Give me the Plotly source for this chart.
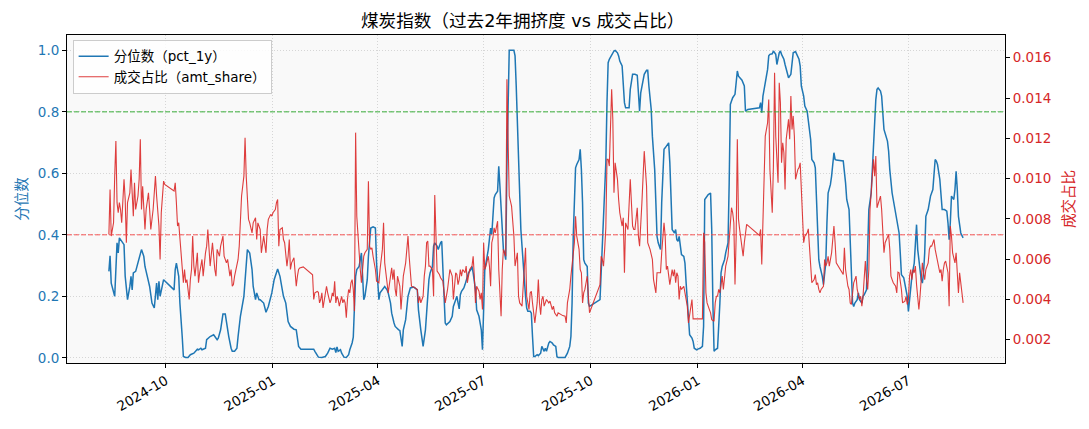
import plotly.graph_objects as go

TITLE = "煤炭指数（过去2年拥挤度 vs 成交占比）"
PCT_NAME = "分位数（pct_1y）"
AMT_NAME = "成交占比（amt_share）"
LEFT_LABEL = "分位数"
RIGHT_LABEL = "成交占比"

HIGH_LINE = 0.8   # green dashed, left axis
MID_LINE = 0.4    # red dashed, left axis

# pct_1y readings (date, value)
PCT_1Y = [
    ("2024-08-13", 0.281), ("2024-08-14", 0.332), ("2024-08-15", 0.243), ("2024-08-18", 0.200),
    ("2024-08-20", 0.374), ("2024-08-21", 0.341), ("2024-08-22", 0.390), ("2024-08-24", 0.379),
    ("2024-08-26", 0.368), ("2024-08-27", 0.265), ("2024-08-29", 0.189), ("2024-08-31", 0.232),
    ("2024-09-01", 0.265), ("2024-09-02", 0.221), ("2024-09-03", 0.276), ("2024-09-05", 0.281),
    ("2024-09-06", 0.297), ("2024-09-08", 0.330), ("2024-09-09", 0.341), ("2024-09-10", 0.352),
    ("2024-09-12", 0.330), ("2024-09-13", 0.297), ("2024-09-15", 0.265), ("2024-09-17", 0.232),
    ("2024-09-19", 0.178), ("2024-09-21", 0.162), ("2024-09-23", 0.243), ("2024-09-24", 0.189),
    ("2024-09-25", 0.249), ("2024-09-26", 0.200), ("2024-09-29", 0.254), ("2024-10-08", 0.221),
    ("2024-10-09", 0.287), ("2024-10-10", 0.308), ("2024-10-12", 0.265), ("2024-10-13", 0.178),
    ("2024-10-15", 0.069), ("2024-10-16", 0.004), ("2024-10-18", 0.001), ("2024-10-20", 0.001),
    ("2024-10-22", 0.010), ("2024-10-25", 0.015), ("2024-10-28", 0.028), ("2024-10-29", 0.026),
    ("2024-10-31", 0.031), ("2024-11-01", 0.026), ("2024-11-04", 0.031), ("2024-11-05", 0.059),
    ("2024-11-08", 0.069), ("2024-11-11", 0.075), ("2024-11-14", 0.059), ("2024-11-15", 0.064),
    ("2024-11-17", 0.091), ("2024-11-18", 0.118), ("2024-11-19", 0.142), ("2024-11-21", 0.142),
    ("2024-11-22", 0.113), ("2024-11-24", 0.069), ("2024-11-26", 0.031), ("2024-11-27", 0.021),
    ("2024-11-29", 0.021), ("2024-12-01", 0.031), ("2024-12-02", 0.069), ("2024-12-04", 0.135),
    ("2024-12-07", 0.200), ("2024-12-09", 0.287), ("2024-12-10", 0.352), ("2024-12-12", 0.341),
    ("2024-12-14", 0.287), ("2024-12-15", 0.232), ("2024-12-17", 0.189), ("2024-12-18", 0.211),
    ("2024-12-20", 0.189), ("2024-12-21", 0.189), ("2024-12-24", 0.178), ("2024-12-26", 0.148),
    ("2024-12-28", 0.167), ("2024-12-31", 0.211), ("2025-01-02", 0.254), ("2025-01-05", 0.289),
    ("2025-01-07", 0.265), ("2025-01-09", 0.221), ("2025-01-10", 0.200), ("2025-01-12", 0.178),
    ("2025-01-13", 0.135), ("2025-01-14", 0.118), ("2025-01-16", 0.102), ("2025-01-19", 0.093),
    ("2025-01-21", 0.091), ("2025-01-22", 0.059), ("2025-01-23", 0.037), ("2025-01-25", 0.028),
    ("2025-01-27", 0.028), ("2025-02-05", 0.028), ("2025-02-06", 0.021), ("2025-02-08", 0.010),
    ("2025-02-09", 0.002), ("2025-02-12", 0.001), ("2025-02-15", 0.004), ("2025-02-17", 0.015),
    ("2025-02-19", 0.031), ("2025-02-21", 0.028), ("2025-02-23", 0.031), ("2025-02-24", 0.017),
    ("2025-02-25", 0.035), ("2025-02-26", 0.021), ("2025-02-28", 0.026), ("2025-03-01", 0.015),
    ("2025-03-03", 0.002), ("2025-03-05", 0.001), ("2025-03-07", 0.010), ("2025-03-08", 0.026),
    ("2025-03-10", 0.048), ("2025-03-11", 0.067), ("2025-03-12", 0.178), ("2025-03-13", 0.265),
    ("2025-03-14", 0.287), ("2025-03-16", 0.297), ("2025-03-17", 0.319), ("2025-03-18", 0.341),
    ("2025-03-19", 0.265), ("2025-03-20", 0.189), ("2025-03-21", 0.200), ("2025-03-23", 0.254),
    ("2025-03-24", 0.330), ("2025-03-25", 0.384), ("2025-03-26", 0.422), ("2025-03-28", 0.426),
    ("2025-03-30", 0.422), ("2025-03-31", 0.308), ("2025-04-02", 0.189), ("2025-04-03", 0.211),
    ("2025-04-05", 0.221), ("2025-04-06", 0.227), ("2025-04-07", 0.232), ("2025-04-09", 0.221),
    ("2025-04-10", 0.211), ("2025-04-12", 0.178), ("2025-04-13", 0.145), ("2025-04-15", 0.113),
    ("2025-04-16", 0.102), ("2025-04-19", 0.091), ("2025-04-20", 0.089), ("2025-04-22", 0.037),
    ("2025-04-23", 0.091), ("2025-04-25", 0.124), ("2025-04-26", 0.156), ("2025-04-27", 0.200),
    ("2025-04-29", 0.227), ("2025-05-02", 0.230), ("2025-05-05", 0.221), ("2025-05-06", 0.156),
    ("2025-05-08", 0.091), ("2025-05-09", 0.059), ("2025-05-10", 0.037), ("2025-05-12", 0.091),
    ("2025-05-13", 0.156), ("2025-05-15", 0.254), ("2025-05-16", 0.276), ("2025-05-18", 0.297),
    ("2025-05-19", 0.363), ("2025-05-20", 0.374), ("2025-05-22", 0.363), ("2025-05-23", 0.352),
    ("2025-05-25", 0.374), ("2025-05-26", 0.379), ("2025-05-28", 0.200), ("2025-05-29", 0.113),
    ("2025-05-30", 0.107), ("2025-06-01", 0.113), ("2025-06-02", 0.118), ("2025-06-04", 0.135),
    ("2025-06-05", 0.167), ("2025-06-07", 0.189), ("2025-06-08", 0.200), ("2025-06-10", 0.159),
    ("2025-06-11", 0.205), ("2025-06-12", 0.216), ("2025-06-14", 0.227), ("2025-06-15", 0.238),
    ("2025-06-17", 0.265), ("2025-06-18", 0.276), ("2025-06-20", 0.287), ("2025-06-21", 0.297),
    ("2025-06-22", 0.276), ("2025-06-24", 0.221), ("2025-06-25", 0.156), ("2025-06-27", 0.135),
    ("2025-06-28", 0.113), ("2025-06-29", 0.091), ("2025-06-30", 0.026), ("2025-07-01", 0.178),
    ("2025-07-02", 0.287), ("2025-07-04", 0.330), ("2025-07-05", 0.352), ("2025-07-07", 0.422),
    ("2025-07-08", 0.401), ("2025-07-10", 0.520), ("2025-07-11", 0.531), ("2025-07-13", 0.542),
    ("2025-07-14", 0.623), ("2025-07-15", 0.558), ("2025-07-17", 0.439), ("2025-07-18", 0.352),
    ("2025-07-19", 0.341), ("2025-07-20", 0.319), ("2025-07-21", 0.623), ("2025-07-22", 0.884),
    ("2025-07-23", 1.000), ("2025-07-27", 1.000), ("2025-07-28", 0.982), ("2025-07-29", 0.884),
    ("2025-07-30", 0.775), ("2025-07-31", 0.612), ("2025-08-01", 0.504), ("2025-08-02", 0.417),
    ("2025-08-04", 0.308), ("2025-08-05", 0.232), ("2025-08-06", 0.200), ("2025-08-07", 0.162),
    ("2025-08-08", 0.151), ("2025-08-10", 0.151), ("2025-08-11", 0.145), ("2025-08-12", 0.069),
    ("2025-08-13", 0.004), ("2025-08-14", 0.004), ("2025-08-16", 0.010), ("2025-08-17", 0.007),
    ("2025-08-19", 0.015), ("2025-08-20", 0.037), ("2025-08-22", 0.021), ("2025-08-23", 0.031),
    ("2025-08-24", 0.021), ("2025-08-26", 0.048), ("2025-08-27", 0.053), ("2025-08-29", 0.048),
    ("2025-08-30", 0.042), ("2025-09-01", 0.037), ("2025-09-02", 0.004), ("2025-09-03", 0.001),
    ("2025-09-06", 0.001), ("2025-09-09", 0.001), ("2025-09-11", 0.015), ("2025-09-13", 0.037),
    ("2025-09-14", 0.069), ("2025-09-15", 0.178), ("2025-09-16", 0.395), ("2025-09-17", 0.526),
    ("2025-09-18", 0.618), ("2025-09-19", 0.629), ("2025-09-21", 0.645), ("2025-09-22", 0.678),
    ("2025-09-23", 0.612), ("2025-09-24", 0.504), ("2025-09-25", 0.319), ("2025-09-26", 0.308),
    ("2025-09-28", 0.297), ("2025-09-29", 0.178), ("2025-09-30", 0.167), ("2025-10-09", 0.189),
    ("2025-10-10", 0.287), ("2025-10-11", 0.374), ("2025-10-12", 0.460), ("2025-10-14", 0.634),
    ("2025-10-15", 0.830), ("2025-10-16", 0.960), ("2025-10-17", 0.971), ("2025-10-19", 0.987),
    ("2025-10-21", 0.998), ("2025-10-22", 1.000), ("2025-10-24", 0.992), ("2025-10-25", 0.982),
    ("2025-10-26", 0.965), ("2025-10-28", 0.949), ("2025-10-29", 0.884), ("2025-10-30", 0.830),
    ("2025-10-31", 0.813), ("2025-11-03", 0.813), ("2025-11-04", 0.873), ("2025-11-06", 0.922),
    ("2025-11-08", 0.922), ("2025-11-10", 0.919), ("2025-11-11", 0.862), ("2025-11-12", 0.802),
    ("2025-11-13", 0.862), ("2025-11-15", 0.895), ("2025-11-16", 0.922), ("2025-11-18", 0.935),
    ("2025-11-19", 0.935), ("2025-11-20", 0.884), ("2025-11-22", 0.808), ("2025-11-23", 0.721),
    ("2025-11-25", 0.612), ("2025-11-26", 0.504), ("2025-11-27", 0.395), ("2025-11-28", 0.374),
    ("2025-11-30", 0.352), ("2025-12-01", 0.504), ("2025-12-03", 0.678), ("2025-12-04", 0.683),
    ("2025-12-06", 0.694), ("2025-12-07", 0.699), ("2025-12-08", 0.634), ("2025-12-09", 0.504),
    ("2025-12-10", 0.417), ("2025-12-12", 0.406), ("2025-12-13", 0.417), ("2025-12-14", 0.384),
    ("2025-12-15", 0.379), ("2025-12-16", 0.395), ("2025-12-17", 0.352), ("2025-12-18", 0.336),
    ("2025-12-20", 0.330), ("2025-12-21", 0.308), ("2025-12-22", 0.243), ("2025-12-23", 0.178),
    ("2025-12-24", 0.118), ("2025-12-25", 0.075), ("2025-12-27", 0.064), ("2025-12-28", 0.053),
    ("2025-12-29", 0.031), ("2025-12-31", 0.026), ("2026-01-01", 0.028), ("2026-01-03", 0.031),
    ("2026-01-05", 0.037), ("2026-01-06", 0.102), ("2026-01-07", 0.515), ("2026-01-09", 0.526),
    ("2026-01-10", 0.531), ("2026-01-12", 0.536), ("2026-01-13", 0.417), ("2026-01-14", 0.178),
    ("2026-01-15", 0.021), ("2026-01-16", 0.026), ("2026-01-18", 0.031), ("2026-01-20", 0.178),
    ("2026-01-21", 0.276), ("2026-01-22", 0.297), ("2026-01-24", 0.319), ("2026-01-25", 0.341),
    ("2026-01-27", 0.374), ("2026-01-28", 0.569), ("2026-01-29", 0.824), ("2026-01-30", 0.835),
    ("2026-01-31", 0.846), ("2026-02-02", 0.857), ("2026-02-04", 0.933), ("2026-02-05", 0.916),
    ("2026-02-07", 0.906), ("2026-02-08", 0.903), ("2026-02-10", 0.884), ("2026-02-11", 0.802),
    ("2026-02-13", 0.808), ("2026-02-23", 0.813), ("2026-02-24", 0.830), ("2026-02-25", 0.797),
    ("2026-02-26", 0.851), ("2026-02-28", 0.895), ("2026-03-02", 0.938), ("2026-03-03", 0.982),
    ("2026-03-04", 0.987), ("2026-03-06", 0.989), ("2026-03-07", 0.998), ("2026-03-09", 0.987),
    ("2026-03-10", 0.954), ("2026-03-12", 0.992), ("2026-03-13", 0.998), ("2026-03-14", 0.987),
    ("2026-03-16", 0.971), ("2026-03-17", 0.954), ("2026-03-19", 0.922), ("2026-03-20", 0.911),
    ("2026-03-22", 0.922), ("2026-03-23", 0.949), ("2026-03-24", 0.992), ("2026-03-26", 0.996),
    ("2026-03-27", 0.987), ("2026-03-29", 0.971), ("2026-03-30", 0.949), ("2026-03-31", 0.884),
    ("2026-04-02", 0.851), ("2026-04-03", 0.819), ("2026-04-05", 0.802), ("2026-04-06", 0.775),
    ("2026-04-08", 0.710), ("2026-04-09", 0.645), ("2026-04-11", 0.634), ("2026-04-12", 0.618),
    ("2026-04-13", 0.504), ("2026-04-15", 0.319), ("2026-04-16", 0.297), ("2026-04-18", 0.265),
    ("2026-04-19", 0.238), ("2026-04-21", 0.308), ("2026-04-22", 0.439), ("2026-04-23", 0.536),
    ("2026-04-25", 0.564), ("2026-04-26", 0.591), ("2026-04-28", 0.667), ("2026-04-29", 0.645),
    ("2026-04-30", 0.643), ("2026-05-06", 0.640), ("2026-05-08", 0.569), ("2026-05-09", 0.515),
    ("2026-05-11", 0.482), ("2026-05-12", 0.395), ("2026-05-13", 0.265), ("2026-05-14", 0.178),
    ("2026-05-15", 0.167), ("2026-05-16", 0.178), ("2026-05-18", 0.189), ("2026-05-19", 0.211),
    ("2026-05-20", 0.189), ("2026-05-22", 0.178), ("2026-05-23", 0.200), ("2026-05-24", 0.205),
    ("2026-05-26", 0.221), ("2026-05-27", 0.363), ("2026-05-28", 0.482), ("2026-05-30", 0.536),
    ("2026-05-31", 0.612), ("2026-06-01", 0.732), ("2026-06-03", 0.840), ("2026-06-04", 0.873),
    ("2026-06-05", 0.878), ("2026-06-07", 0.868), ("2026-06-08", 0.851), ("2026-06-10", 0.743),
    ("2026-06-11", 0.732), ("2026-06-13", 0.705), ("2026-06-14", 0.672), ("2026-06-15", 0.612),
    ("2026-06-17", 0.536), ("2026-06-18", 0.515), ("2026-06-20", 0.482), ("2026-06-21", 0.460),
    ("2026-06-23", 0.406), ("2026-06-24", 0.341), ("2026-06-25", 0.270), ("2026-06-27", 0.260),
    ("2026-06-28", 0.243), ("2026-06-30", 0.200), ("2026-07-01", 0.151), ("2026-07-02", 0.189),
    ("2026-07-03", 0.221), ("2026-07-04", 0.265), ("2026-07-06", 0.308), ("2026-07-07", 0.374),
    ("2026-07-08", 0.433), ("2026-07-09", 0.352), ("2026-07-10", 0.308), ("2026-07-11", 0.287),
    ("2026-07-12", 0.254), ("2026-07-13", 0.243), ("2026-07-14", 0.276), ("2026-07-15", 0.341),
    ("2026-07-16", 0.460), ("2026-07-18", 0.482), ("2026-07-19", 0.504), ("2026-07-20", 0.526),
    ("2026-07-22", 0.547), ("2026-07-23", 0.612), ("2026-07-24", 0.645), ("2026-07-25", 0.640),
    ("2026-07-26", 0.629), ("2026-07-28", 0.580), ("2026-07-29", 0.531), ("2026-07-30", 0.482),
    ("2026-08-01", 0.482), ("2026-08-03", 0.477), ("2026-08-04", 0.439), ("2026-08-05", 0.384),
    ("2026-08-06", 0.439), ("2026-08-07", 0.526), ("2026-08-08", 0.520), ("2026-08-09", 0.515),
    ("2026-08-10", 0.547), ("2026-08-11", 0.607), ("2026-08-12", 0.547), ("2026-08-13", 0.460),
    ("2026-08-14", 0.433), ("2026-08-15", 0.406), ("2026-08-17", 0.390),
]

# amt_share readings (date, value)
AMT_SHARE = [
    ("2024-08-13", 0.00722), ("2024-08-14", 0.00946), ("2024-08-15", 0.00714), ("2024-08-17", 0.00780),
    ("2024-08-18", 0.01012), ("2024-08-19", 0.01186), ("2024-08-20", 0.00880), ("2024-08-21", 0.00830),
    ("2024-08-22", 0.00880), ("2024-08-23", 0.00846), ("2024-08-24", 0.00780), ("2024-08-26", 0.00996),
    ("2024-08-27", 0.00896), ("2024-08-28", 0.00681), ("2024-08-29", 0.00880), ("2024-08-31", 0.00929),
    ("2024-09-01", 0.01045), ("2024-09-02", 0.00946), ("2024-09-03", 0.00813), ("2024-09-04", 0.00979),
    ("2024-09-05", 0.00846), ("2024-09-07", 0.00913), ("2024-09-08", 0.00996), ("2024-09-09", 0.01195),
    ("2024-09-10", 0.00846), ("2024-09-11", 0.00962), ("2024-09-12", 0.00846), ("2024-09-13", 0.00747),
    ("2024-09-14", 0.00846), ("2024-09-15", 0.00896), ("2024-09-16", 0.00929), ("2024-09-17", 0.00846),
    ("2024-09-18", 0.00747), ("2024-09-20", 0.00846), ("2024-09-21", 0.00929), ("2024-09-22", 0.01012),
    ("2024-09-23", 0.00913), ("2024-09-25", 0.00764), ("2024-09-26", 0.00598), ("2024-09-27", 0.00830),
    ("2024-09-29", 0.00987), ("2024-09-30", 0.00971), ("2024-10-08", 0.00938), ("2024-10-09", 0.00979),
    ("2024-10-10", 0.00880), ("2024-10-11", 0.00764), ("2024-10-12", 0.00780), ("2024-10-13", 0.00697),
    ("2024-10-14", 0.00648), ("2024-10-15", 0.00515), ("2024-10-16", 0.00482), ("2024-10-17", 0.00548),
    ("2024-10-18", 0.00482), ("2024-10-19", 0.00498), ("2024-10-20", 0.00449), ("2024-10-21", 0.00399),
    ("2024-10-22", 0.00498), ("2024-10-23", 0.00548), ("2024-10-24", 0.00714), ("2024-10-25", 0.00565),
    ("2024-10-26", 0.00515), ("2024-10-28", 0.00631), ("2024-10-29", 0.00482), ("2024-10-30", 0.00532),
    ("2024-11-01", 0.00598), ("2024-11-02", 0.00515), ("2024-11-04", 0.00631), ("2024-11-05", 0.00664),
    ("2024-11-06", 0.00747), ("2024-11-07", 0.00631), ("2024-11-08", 0.00565), ("2024-11-10", 0.00681),
    ("2024-11-11", 0.00598), ("2024-11-12", 0.00548), ("2024-11-13", 0.00515), ("2024-11-14", 0.00648),
    ("2024-11-16", 0.00614), ("2024-11-17", 0.00664), ("2024-11-19", 0.00714), ("2024-11-20", 0.00614),
    ("2024-11-22", 0.00581), ("2024-11-23", 0.00598), ("2024-11-25", 0.00515), ("2024-11-26", 0.00548),
    ("2024-11-27", 0.00465), ("2024-11-28", 0.00473), ("2024-11-29", 0.00515), ("2024-12-01", 0.00565),
    ("2024-12-02", 0.00598), ("2024-12-03", 0.00664), ("2024-12-04", 0.00780), ("2024-12-05", 0.00913),
    ("2024-12-07", 0.01012), ("2024-12-08", 0.01203), ("2024-12-09", 0.01012), ("2024-12-10", 0.00880),
    ("2024-12-11", 0.00797), ("2024-12-12", 0.00780), ("2024-12-14", 0.00730), ("2024-12-15", 0.00780),
    ("2024-12-17", 0.00805), ("2024-12-18", 0.00697), ("2024-12-19", 0.00780), ("2024-12-21", 0.00747),
    ("2024-12-22", 0.00631), ("2024-12-24", 0.00714), ("2024-12-25", 0.00664), ("2024-12-26", 0.00631),
    ("2024-12-27", 0.00747), ("2024-12-28", 0.00797), ("2024-12-30", 0.00822), ("2024-12-31", 0.00813),
    ("2025-01-01", 0.00830), ("2025-01-03", 0.00846), ("2025-01-04", 0.00880), ("2025-01-05", 0.00896),
    ("2025-01-06", 0.00664), ("2025-01-07", 0.00747), ("2025-01-09", 0.00755), ("2025-01-10", 0.00697),
    ("2025-01-11", 0.00681), ("2025-01-13", 0.00565), ("2025-01-14", 0.00614), ("2025-01-15", 0.00697),
    ("2025-01-16", 0.00548), ("2025-01-17", 0.00581), ("2025-01-19", 0.00606), ("2025-01-20", 0.00548),
    ("2025-01-21", 0.00465), ("2025-01-22", 0.00515), ("2025-01-23", 0.00548), ("2025-01-24", 0.00556),
    ("2025-01-27", 0.00561), ("2025-02-04", 0.00522), ("2025-02-05", 0.00399), ("2025-02-06", 0.00432),
    ("2025-02-08", 0.00439), ("2025-02-09", 0.00435), ("2025-02-10", 0.00382), ("2025-02-11", 0.00399),
    ("2025-02-12", 0.00432), ("2025-02-13", 0.00357), ("2025-02-14", 0.00399), ("2025-02-15", 0.00449),
    ("2025-02-16", 0.00465), ("2025-02-17", 0.00432), ("2025-02-19", 0.00382), ("2025-02-20", 0.00399),
    ("2025-02-21", 0.00432), ("2025-02-22", 0.00415), ("2025-02-23", 0.00490), ("2025-02-24", 0.00382),
    ("2025-02-25", 0.00415), ("2025-02-26", 0.00399), ("2025-02-27", 0.00366), ("2025-02-28", 0.00391),
    ("2025-03-01", 0.00415), ("2025-03-02", 0.00382), ("2025-03-03", 0.00399), ("2025-03-04", 0.00382),
    ("2025-03-05", 0.00308), ("2025-03-06", 0.00399), ("2025-03-07", 0.00449), ("2025-03-08", 0.00432),
    ("2025-03-09", 0.00482), ("2025-03-10", 0.00498), ("2025-03-11", 0.00449), ("2025-03-12", 0.00341),
    ("2025-03-13", 0.01228), ("2025-03-14", 0.00813), ("2025-03-15", 0.00714), ("2025-03-16", 0.00648),
    ("2025-03-17", 0.00548), ("2025-03-18", 0.00482), ("2025-03-19", 0.00565), ("2025-03-20", 0.00614),
    ("2025-03-21", 0.00631), ("2025-03-23", 0.00648), ("2025-03-24", 0.00987), ("2025-03-25", 0.00664),
    ("2025-03-26", 0.00648), ("2025-03-27", 0.00656), ("2025-03-28", 0.00614), ("2025-03-30", 0.00548),
    ("2025-03-31", 0.00490), ("2025-04-02", 0.00482), ("2025-04-03", 0.00548), ("2025-04-05", 0.00648),
    ("2025-04-06", 0.00780), ("2025-04-07", 0.00581), ("2025-04-09", 0.00482), ("2025-04-10", 0.00432),
    ("2025-04-12", 0.00515), ("2025-04-13", 0.00556), ("2025-04-14", 0.00498), ("2025-04-15", 0.00548),
    ("2025-04-16", 0.00449), ("2025-04-17", 0.00415), ("2025-04-18", 0.00515), ("2025-04-20", 0.00465),
    ("2025-04-21", 0.00349), ("2025-04-22", 0.00449), ("2025-04-23", 0.00515), ("2025-04-25", 0.00581),
    ("2025-04-26", 0.00664), ("2025-04-27", 0.00714), ("2025-04-28", 0.00614), ("2025-04-29", 0.00548),
    ("2025-04-30", 0.00465), ("2025-05-03", 0.00457), ("2025-05-05", 0.00449), ("2025-05-06", 0.00382),
    ("2025-05-07", 0.00415), ("2025-05-08", 0.00382), ("2025-05-10", 0.00415), ("2025-05-11", 0.00515),
    ("2025-05-12", 0.00565), ("2025-05-13", 0.00681), ("2025-05-14", 0.00689), ("2025-05-15", 0.00565),
    ("2025-05-16", 0.00565), ("2025-05-18", 0.00548), ("2025-05-19", 0.00415), ("2025-05-20", 0.00918),
    ("2025-05-21", 0.00681), ("2025-05-22", 0.00540), ("2025-05-24", 0.00523), ("2025-05-25", 0.00507),
    ("2025-05-27", 0.00490), ("2025-05-28", 0.00432), ("2025-05-29", 0.00382), ("2025-05-31", 0.00449),
    ("2025-06-01", 0.00498), ("2025-06-02", 0.00548), ("2025-06-04", 0.00515), ("2025-06-05", 0.00399),
    ("2025-06-07", 0.00532), ("2025-06-08", 0.00523), ("2025-06-09", 0.00473), ("2025-06-10", 0.00498),
    ("2025-06-11", 0.00548), ("2025-06-12", 0.00515), ("2025-06-13", 0.00548), ("2025-06-15", 0.00532),
    ("2025-06-16", 0.00565), ("2025-06-17", 0.00482), ("2025-06-18", 0.00515), ("2025-06-19", 0.00548),
    ("2025-06-21", 0.00565), ("2025-06-22", 0.00614), ("2025-06-23", 0.00515), ("2025-06-24", 0.00382),
    ("2025-06-25", 0.00465), ("2025-06-27", 0.00440), ("2025-06-28", 0.00399), ("2025-06-29", 0.00432),
    ("2025-06-30", 0.00349), ("2025-07-01", 0.00681), ("2025-07-02", 0.00548), ("2025-07-03", 0.00565),
    ("2025-07-05", 0.00614), ("2025-07-06", 0.00565), ("2025-07-07", 0.00465), ("2025-07-08", 0.00681),
    ("2025-07-09", 0.00706), ("2025-07-10", 0.00755), ("2025-07-11", 0.00730), ("2025-07-12", 0.00764),
    ("2025-07-13", 0.00788), ("2025-07-14", 0.00548), ("2025-07-15", 0.00382), ("2025-07-16", 0.00316),
    ("2025-07-17", 0.00548), ("2025-07-18", 0.00648), ("2025-07-19", 0.00631), ("2025-07-20", 0.00614),
    ("2025-07-21", 0.01493), ("2025-07-22", 0.01178), ("2025-07-23", 0.00913), ("2025-07-25", 0.00863),
    ("2025-07-26", 0.00805), ("2025-07-27", 0.00714), ("2025-07-28", 0.00565), ("2025-07-29", 0.00614),
    ("2025-07-30", 0.00631), ("2025-07-31", 0.00415), ("2025-08-01", 0.00382), ("2025-08-03", 0.00366),
    ("2025-08-04", 0.00482), ("2025-08-06", 0.00656), ("2025-08-07", 0.00415), ("2025-08-09", 0.00349),
    ("2025-08-10", 0.00432), ("2025-08-11", 0.00440), ("2025-08-12", 0.00382), ("2025-08-13", 0.00333),
    ("2025-08-14", 0.00283), ("2025-08-16", 0.00382), ("2025-08-17", 0.00498), ("2025-08-18", 0.00382),
    ("2025-08-19", 0.00324), ("2025-08-20", 0.00399), ("2025-08-21", 0.00415), ("2025-08-22", 0.00366),
    ("2025-08-23", 0.00382), ("2025-08-24", 0.00399), ("2025-08-26", 0.00382), ("2025-08-27", 0.00391),
    ("2025-08-29", 0.00349), ("2025-08-30", 0.00366), ("2025-08-31", 0.00333), ("2025-09-02", 0.00316),
    ("2025-09-03", 0.00333), ("2025-09-05", 0.00324), ("2025-09-07", 0.00319), ("2025-09-09", 0.00316),
    ("2025-09-10", 0.00283), ("2025-09-11", 0.00382), ("2025-09-13", 0.00449), ("2025-09-14", 0.00515),
    ("2025-09-15", 0.00581), ("2025-09-16", 0.00614), ("2025-09-17", 0.00681), ("2025-09-18", 0.00813),
    ("2025-09-19", 0.00714), ("2025-09-21", 0.00648), ("2025-09-22", 0.00548), ("2025-09-23", 0.00532),
    ("2025-09-24", 0.00382), ("2025-09-25", 0.00432), ("2025-09-26", 0.00449), ("2025-09-27", 0.00482),
    ("2025-09-28", 0.00515), ("2025-09-29", 0.00415), ("2025-09-30", 0.00333), ("2025-10-09", 0.00473),
    ("2025-10-10", 0.00614), ("2025-10-11", 0.00598), ("2025-10-12", 0.00565), ("2025-10-13", 0.00648),
    ("2025-10-14", 0.00755), ("2025-10-15", 0.01095), ("2025-10-16", 0.01095), ("2025-10-17", 0.01062),
    ("2025-10-18", 0.01294), ("2025-10-19", 0.01443), ("2025-10-20", 0.01294), ("2025-10-21", 0.00929),
    ("2025-10-22", 0.01078), ("2025-10-24", 0.00996), ("2025-10-25", 0.00896), ("2025-10-26", 0.00830),
    ("2025-10-28", 0.00764), ("2025-10-29", 0.00805), ("2025-10-30", 0.00532), ("2025-10-31", 0.00780),
    ("2025-11-02", 0.00747), ("2025-11-03", 0.00880), ("2025-11-04", 0.00996), ("2025-11-06", 0.00764),
    ("2025-11-07", 0.00747), ("2025-11-08", 0.00747), ("2025-11-10", 0.00855), ("2025-11-11", 0.00714),
    ("2025-11-12", 0.00664), ("2025-11-14", 0.00880), ("2025-11-15", 0.01012), ("2025-11-16", 0.01136),
    ("2025-11-18", 0.00962), ("2025-11-19", 0.00681), ("2025-11-20", 0.00664), ("2025-11-21", 0.00648),
    ("2025-11-23", 0.00598), ("2025-11-24", 0.00498), ("2025-11-26", 0.00432), ("2025-11-27", 0.00532),
    ("2025-11-28", 0.00532), ("2025-11-30", 0.00532), ("2025-12-01", 0.00631), ("2025-12-03", 0.00780),
    ("2025-12-04", 0.00714), ("2025-12-05", 0.00548), ("2025-12-06", 0.00565), ("2025-12-07", 0.00498),
    ("2025-12-08", 0.00473), ("2025-12-10", 0.00548), ("2025-12-11", 0.00515), ("2025-12-12", 0.00548),
    ("2025-12-13", 0.00482), ("2025-12-14", 0.00532), ("2025-12-15", 0.00515), ("2025-12-16", 0.00399),
    ("2025-12-17", 0.00465), ("2025-12-18", 0.00449), ("2025-12-20", 0.00465), ("2025-12-21", 0.00432),
    ("2025-12-23", 0.00366), ("2025-12-24", 0.00283), ("2025-12-26", 0.00349), ("2025-12-27", 0.00399),
    ("2025-12-28", 0.00303), ("2025-12-31", 0.00303), ("2026-01-05", 0.00303), ("2026-01-06", 0.00730),
    ("2026-01-07", 0.00681), ("2026-01-08", 0.00432), ("2026-01-09", 0.00382), ("2026-01-11", 0.00349),
    ("2026-01-12", 0.00333), ("2026-01-13", 0.00299), ("2026-01-15", 0.00291), ("2026-01-16", 0.00382),
    ("2026-01-17", 0.00415), ("2026-01-18", 0.00415), ("2026-01-19", 0.00449), ("2026-01-20", 0.00432),
    ("2026-01-21", 0.00482), ("2026-01-22", 0.00515), ("2026-01-23", 0.00449), ("2026-01-24", 0.00498),
    ("2026-01-25", 0.00565), ("2026-01-27", 0.00614), ("2026-01-28", 0.00681), ("2026-01-29", 0.00780),
    ("2026-01-30", 0.00855), ("2026-01-31", 0.00830), ("2026-02-01", 0.00780), ("2026-02-02", 0.00473),
    ("2026-02-03", 0.00714), ("2026-02-04", 0.01195), ("2026-02-05", 0.00797), ("2026-02-06", 0.00747),
    ("2026-02-08", 0.00664), ("2026-02-09", 0.00614), ("2026-02-10", 0.00681), ("2026-02-11", 0.00730),
    ("2026-02-12", 0.00772), ("2026-02-23", 0.00717), ("2026-02-24", 0.00747), ("2026-02-25", 0.00573),
    ("2026-02-26", 0.00780), ("2026-02-27", 0.01078), ("2026-02-28", 0.01211), ("2026-03-02", 0.01277),
    ("2026-03-03", 0.01393), ("2026-03-04", 0.01045), ("2026-03-05", 0.00962), ("2026-03-06", 0.00830),
    ("2026-03-07", 0.01062), ("2026-03-08", 0.01526), ("2026-03-09", 0.01211), ("2026-03-10", 0.01078),
    ("2026-03-11", 0.00979), ("2026-03-12", 0.01476), ("2026-03-13", 0.01377), ("2026-03-14", 0.01078),
    ("2026-03-15", 0.01178), ("2026-03-16", 0.01128), ("2026-03-17", 0.00946), ("2026-03-18", 0.01195),
    ("2026-03-20", 0.01294), ("2026-03-21", 0.01195), ("2026-03-22", 0.01410), ("2026-03-23", 0.01244),
    ("2026-03-24", 0.01311), ("2026-03-25", 0.01211), ("2026-03-26", 0.00996), ("2026-03-28", 0.01045),
    ("2026-03-29", 0.01054), ("2026-03-30", 0.01078), ("2026-03-31", 0.00913), ("2026-04-01", 0.00747),
    ("2026-04-02", 0.00681), ("2026-04-03", 0.00714), ("2026-04-05", 0.00730), ("2026-04-06", 0.00750),
    ("2026-04-08", 0.00598), ("2026-04-09", 0.00482), ("2026-04-11", 0.00498), ("2026-04-12", 0.00523),
    ("2026-04-13", 0.00473), ("2026-04-14", 0.00482), ("2026-04-15", 0.00449), ("2026-04-16", 0.00432),
    ("2026-04-17", 0.00449), ("2026-04-19", 0.00465), ("2026-04-20", 0.00598), ("2026-04-21", 0.00565),
    ("2026-04-22", 0.00581), ("2026-04-23", 0.00614), ("2026-04-24", 0.00565), ("2026-04-25", 0.00598),
    ("2026-04-26", 0.00631), ("2026-04-27", 0.00697), ("2026-04-28", 0.00764), ("2026-04-29", 0.00681),
    ("2026-04-30", 0.00581), ("2026-05-06", 0.00523), ("2026-05-07", 0.00656), ("2026-05-08", 0.00548),
    ("2026-05-09", 0.00498), ("2026-05-10", 0.00465), ("2026-05-11", 0.00449), ("2026-05-12", 0.00382),
    ("2026-05-13", 0.00374), ("2026-05-14", 0.00449), ("2026-05-15", 0.00482), ("2026-05-16", 0.00498),
    ("2026-05-17", 0.00515), ("2026-05-18", 0.00449), ("2026-05-20", 0.00399), ("2026-05-21", 0.00415),
    ("2026-05-22", 0.00366), ("2026-05-23", 0.00415), ("2026-05-24", 0.00482), ("2026-05-25", 0.00590),
    ("2026-05-26", 0.00498), ("2026-05-27", 0.00449), ("2026-05-28", 0.00548), ("2026-05-29", 0.00846),
    ("2026-05-30", 0.00929), ("2026-05-31", 0.01045), ("2026-06-01", 0.01095), ("2026-06-02", 0.01012),
    ("2026-06-03", 0.01112), ("2026-06-04", 0.00855), ("2026-06-06", 0.00896), ("2026-06-07", 0.00913),
    ("2026-06-08", 0.00846), ("2026-06-09", 0.00714), ("2026-06-10", 0.00631), ("2026-06-11", 0.00681),
    ("2026-06-13", 0.00714), ("2026-06-14", 0.00722), ("2026-06-15", 0.00648), ("2026-06-16", 0.00515),
    ("2026-06-17", 0.00498), ("2026-06-18", 0.00482), ("2026-06-20", 0.00465), ("2026-06-21", 0.00432),
    ("2026-06-22", 0.00535), ("2026-06-23", 0.00532), ("2026-06-25", 0.00449), ("2026-06-26", 0.00382),
    ("2026-06-28", 0.00391), ("2026-06-29", 0.00415), ("2026-06-30", 0.00374), ("2026-07-01", 0.00399),
    ("2026-07-02", 0.00515), ("2026-07-03", 0.00548), ("2026-07-04", 0.00498), ("2026-07-05", 0.00548),
    ("2026-07-06", 0.00532), ("2026-07-07", 0.00565), ("2026-07-08", 0.00473), ("2026-07-09", 0.00399),
    ("2026-07-10", 0.00349), ("2026-07-11", 0.00415), ("2026-07-12", 0.00482), ("2026-07-13", 0.00581),
    ("2026-07-14", 0.00532), ("2026-07-15", 0.00498), ("2026-07-16", 0.00548), ("2026-07-18", 0.00581),
    ("2026-07-19", 0.00648), ("2026-07-20", 0.00664), ("2026-07-21", 0.00664), ("2026-07-22", 0.00681),
    ("2026-07-23", 0.00697), ("2026-07-24", 0.00648), ("2026-07-25", 0.00614), ("2026-07-26", 0.00581),
    ("2026-07-28", 0.00532), ("2026-07-29", 0.00548), ("2026-07-30", 0.00490), ("2026-07-31", 0.00548),
    ("2026-08-01", 0.00581), ("2026-08-02", 0.00590), ("2026-08-04", 0.00532), ("2026-08-05", 0.00366),
    ("2026-08-06", 0.00764), ("2026-08-07", 0.00714), ("2026-08-08", 0.00631), ("2026-08-09", 0.00606),
    ("2026-08-10", 0.00581), ("2026-08-11", 0.00631), ("2026-08-12", 0.00548), ("2026-08-13", 0.00432),
    ("2026-08-14", 0.00532), ("2026-08-15", 0.00482), ("2026-08-16", 0.00432), ("2026-08-17", 0.00382),
]

pct_dates = [d for d, _ in PCT_1Y]
pct_vals = [v for _, v in PCT_1Y]
amt_dates = [d for d, _ in AMT_SHARE]
amt_vals = [v for _, v in AMT_SHARE]

BLUE = "#1f77b4"
RED = "#d62728"
FONT = "DejaVu Sans, Noto Sans CJK SC, sans-serif"
GRID = "rgba(190,190,190,0.6)"

fig = go.Figure()
fig.add_trace(go.Scatter(
    x=pct_dates, y=pct_vals, name=PCT_NAME, mode="lines",
    line=dict(color=BLUE, width=1.5), yaxis="y",
))
fig.add_trace(go.Scatter(
    x=amt_dates, y=amt_vals, name=AMT_NAME, mode="lines",
    line=dict(color="rgba(218,40,40,0.9)", width=1.1), yaxis="y2",
))

fig.add_hline(y=HIGH_LINE, line=dict(color="#3aae3a", width=1.0, dash="5px,2px"), yref="y", layer="above")
fig.add_hline(y=MID_LINE, line=dict(color="rgba(245,70,70,0.9)", width=1.0, dash="5px,2px"), yref="y", layer="above")

fig.update_layout(
    width=1089, height=429,
    margin=dict(l=67, r=84, t=35, b=66),
    paper_bgcolor="white",
    plot_bgcolor="#f9f9f9",
    font=dict(family=FONT, size=13.5, color="black"),
    title=dict(text=TITLE, x=0.48, xref="container", xanchor="center",
               y=0.952, yref="container", yanchor="middle",
               font=dict(size=17.6, family=FONT, color="black")),
    showlegend=True,
    legend=dict(x=0.006, y=0.985, xanchor="left", yanchor="top",
                bgcolor="rgba(255,255,255,0.85)", bordercolor="#cccccc", borderwidth=1,
                font=dict(size=13.5, family=FONT, color="black"),
                tracegroupgap=2),
    xaxis=dict(
        type="date",
        range=["2024-07-08", "2026-09-22"],
        tick0="2024-10-01", dtick="M3", tickformat="%Y-%m",
        tickangle=-30, automargin=False,
        ticks="outside", ticklen=4, tickcolor="black",
        showline=True, linecolor="black", linewidth=1, mirror=True,
        showgrid=True, gridcolor=GRID, griddash="1px,2px", gridwidth=1,
        zeroline=False,
        tickfont=dict(size=13.5, color="black", family=FONT),
    ),
    yaxis=dict(
        range=[-0.017, 1.05], automargin=False,
        tick0=0, dtick=0.2, tickformat=".1f",
        ticks="outside", ticklen=4, tickcolor="black",
        showline=True, linecolor="black", linewidth=1, mirror=True,
        showgrid=True, gridcolor=GRID, griddash="1px,2px", gridwidth=1,
        zeroline=False,
        tickfont=dict(size=13.5, color=BLUE, family=FONT),
        title=dict(text=LEFT_LABEL, font=dict(size=14.5, color=BLUE, family=FONT), standoff=6),
    ),
    yaxis2=dict(
        overlaying="y", side="right", automargin=False,
        range=[0.000836, 0.01713],
        tick0=0.002, dtick=0.002, tickformat=".3f",
        ticks="outside", ticklen=4, tickcolor="black",
        showline=True, linecolor="black", linewidth=1,
        showgrid=False, zeroline=False,
        tickfont=dict(size=13.5, color=RED, family=FONT),
        title=dict(text=RIGHT_LABEL, font=dict(size=14.5, color=RED, family=FONT), standoff=13),
    ),
)

fig.write_html("out.html", config={"displayModeBar": False},
               post_script="document.body.style.margin='0px';")
